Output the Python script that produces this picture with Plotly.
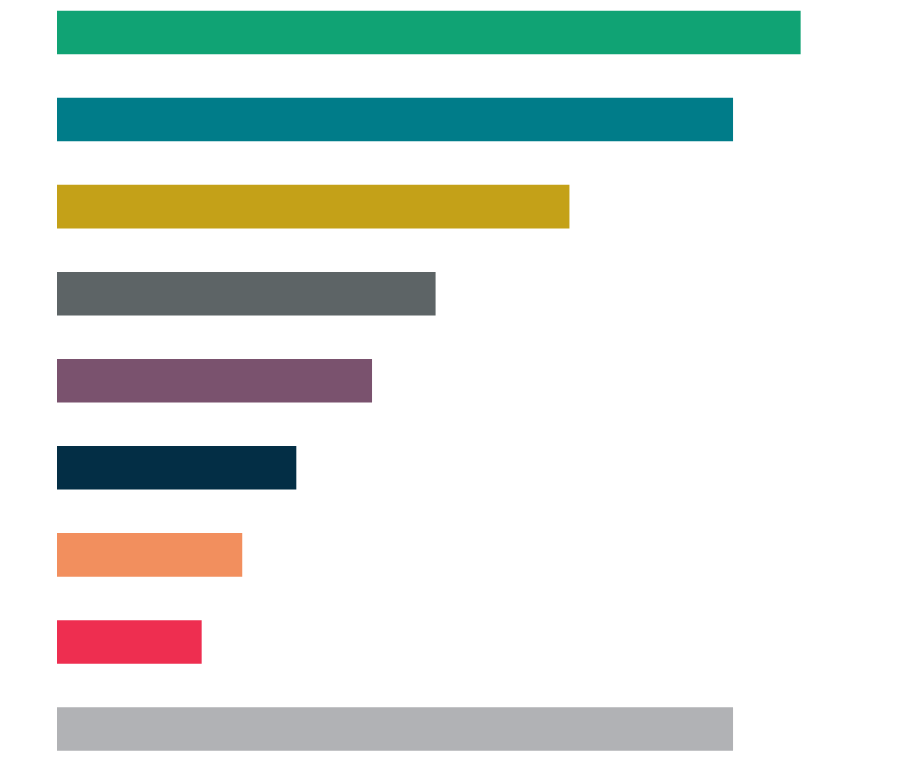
import plotly.graph_objects as go

categories = ["A", "B", "C", "D", "E", "F", "G", "H", "I"]
values = [55.0, 50.0, 37.9, 28.0, 23.3, 17.7, 13.7, 10.7, 50.0]
colors = ["#10A374", "#007C89", "#C4A118", "#5D6466", "#7A526E",
          "#032E45", "#F28F5E", "#EE2E50", "#B1B2B5"]

positions = list(range(len(categories)))

fig = go.Figure(go.Bar(
    x=values,
    y=positions,
    orientation="h",
    marker=dict(color=colors, line=dict(width=0)),
    width=0.5,
    hoverinfo="skip",
))

fig.update_layout(
    width=900,
    height=765,
    margin=dict(l=49, r=0, t=0, b=0),
    paper_bgcolor="white",
    plot_bgcolor="white",
    showlegend=False,
    xaxis=dict(range=[0, 62.94], visible=False, fixedrange=True),
    yaxis=dict(range=[8.5054, -0.2814], visible=False, fixedrange=True),
)

fig.write_html("out.html", config={"displayModeBar": False})
